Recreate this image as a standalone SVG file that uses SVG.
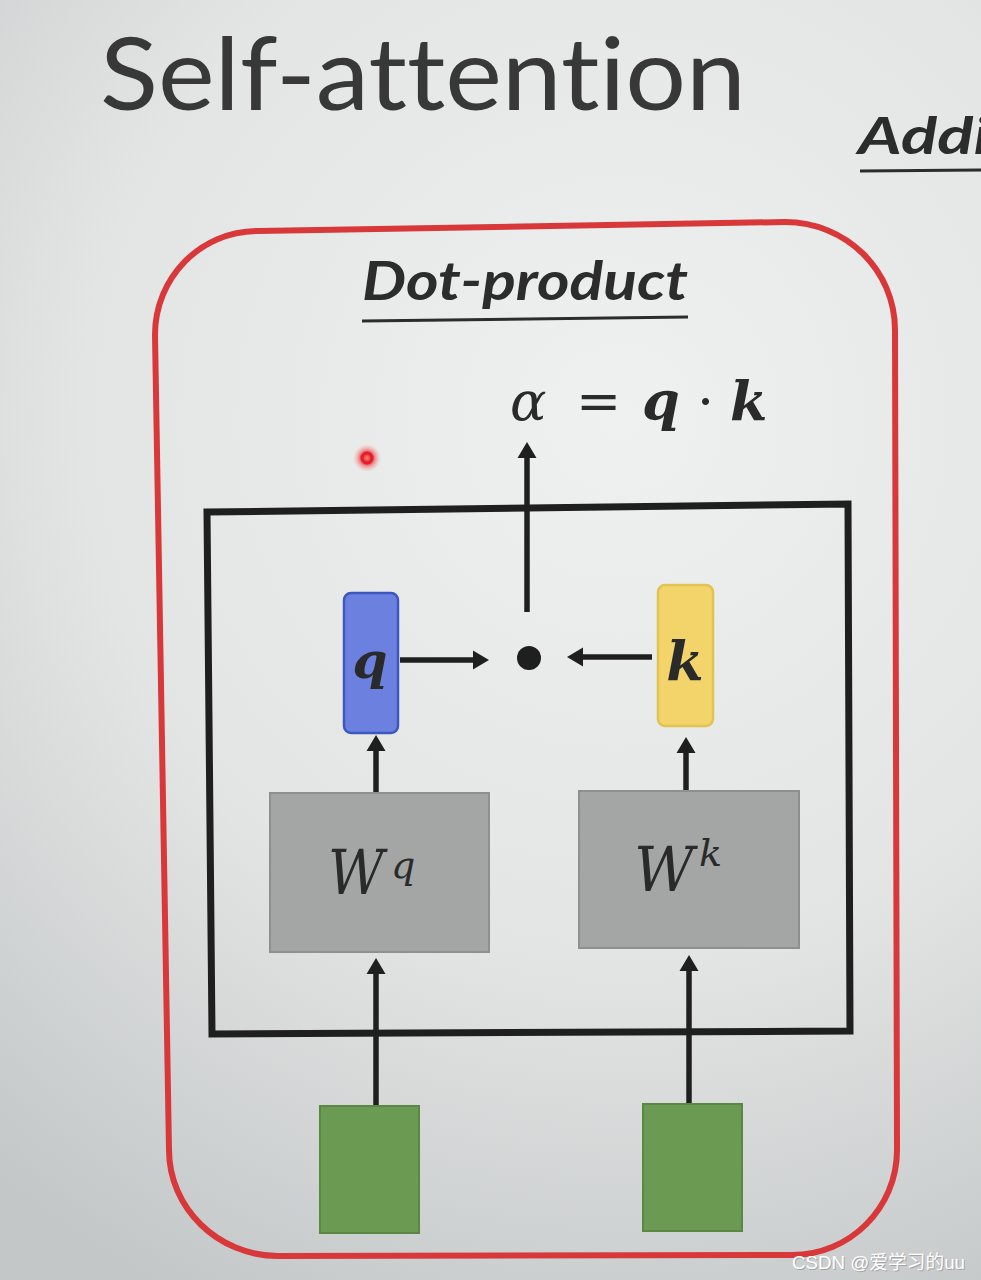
<svg xmlns="http://www.w3.org/2000/svg" width="981" height="1280" viewBox="0 0 981 1280">
  <defs>
    <radialGradient id="bg" cx="620" cy="420" r="980" gradientUnits="userSpaceOnUse">
      <stop offset="0" stop-color="#eff1f0"/>
      <stop offset="0.55" stop-color="#e2e5e4"/>
      <stop offset="1" stop-color="#c4c7c7"/>
    </radialGradient>
    <radialGradient id="laser">
      <stop offset="0" stop-color="#ff8080"/>
      <stop offset="0.35" stop-color="#e8202a"/>
      <stop offset="0.6" stop-color="#f06060" stop-opacity="0.6"/>
      <stop offset="1" stop-color="#f4a0a0" stop-opacity="0"/>
    </radialGradient>
    <marker id="ah" viewBox="0 0 16 20" markerWidth="16" markerHeight="20" refX="6" refY="10" orient="auto" markerUnits="userSpaceOnUse">
      <path d="M0,0.5 L16,10 L0,19.5 Z" fill="#1f1f1f"/>
    </marker>
    <style>
      .title{font-family:Lato,"Open Sans","Liberation Sans",sans-serif;fill:#383838;font-variant-ligatures:none;font-feature-settings:"liga" 0}
      .head{font-family:Lato,"Open Sans","Liberation Sans",sans-serif;font-weight:700;font-style:italic;fill:#2c2c2c}
      .math{font-family:"DejaVu Serif","Liberation Serif",serif;fill:#2a2a2a}
      .bi{font-weight:700;font-style:italic}
      .it{font-style:italic}
      .conn{stroke:#1f1f1f;stroke-width:5.5;fill:none;marker-end:url(#ah)}
      .gray{fill:#a4a5a5;stroke:#8e8f8f;stroke-width:2}
      .green{fill:#6b9a52;stroke:#5b8644;stroke-width:2}
    </style>
  </defs>

  <rect x="0" y="0" width="981" height="1280" fill="url(#bg)"/>

  <g id="title">
    <text class="title" x="100" y="110" font-size="100" textLength="646" lengthAdjust="spacingAndGlyphs">Self-attention</text>
  </g>

  <g id="additive-heading">
    <text class="head" x="858" y="154" font-size="52" textLength="132" lengthAdjust="spacingAndGlyphs">Addi</text>
    <line x1="860" y1="171" x2="981" y2="170" stroke="#2c2c2c" stroke-width="3"/>
  </g>

  <g id="red-frame">
    <path d="M155,335 C155,278 200,231 258,231 L785,222 C846,222 895,270 895,330 L897,1150 C897,1208 850,1255 792,1255 L278,1256 C218,1256 169,1208 169,1150 Z" fill="none" stroke="#d8383a" stroke-width="6"/>
  </g>

  <g id="dot-product-heading">
    <text class="head" x="362" y="300" font-size="54" textLength="326" lengthAdjust="spacingAndGlyphs">Dot-product</text>
    <line x1="362" y1="321" x2="688" y2="317" stroke="#2c2c2c" stroke-width="3"/>
  </g>

  <g id="formula">
    <text class="math" y="420" font-size="54"><tspan class="it" x="510">α</tspan><tspan x="576">=</tspan><tspan class="bi" x="642">q</tspan><tspan x="697">·</tspan><tspan class="bi" x="730">k</tspan></text>
  </g>

  <g id="laser-dot">
    <circle cx="367" cy="458" r="14" fill="url(#laser)"/>
    <circle cx="367" cy="458" r="5" fill="none" stroke="#e0202a" stroke-width="3"/>
  </g>

  <g id="module-box">
    <polygon points="207,512 848,504 850,1031 212,1034" fill="none" stroke="#1f1f1f" stroke-width="7"/>
  </g>

  <g id="connectors">
    <line class="conn" x1="527" y1="612" x2="527" y2="452"/>
    <line class="conn" x1="400" y1="660" x2="479" y2="660"/>
    <line class="conn" x1="652" y1="657" x2="577" y2="657"/>
    <line class="conn" x1="376" y1="812" x2="376" y2="745"/>
    <line class="conn" x1="686" y1="815" x2="686" y2="747"/>
    <line class="conn" x1="376" y1="1106" x2="376" y2="968"/>
    <line class="conn" x1="689" y1="1104" x2="689" y2="965"/>
  </g>

  <g id="dot-op">
    <circle cx="529" cy="658" r="12" fill="#1f1f1f"/>
  </g>

  <g id="q-vector">
    <rect x="344" y="593" width="54" height="140" rx="7" fill="#6c80e0" stroke="#3c58c0" stroke-width="2.5"/>
    <text class="math bi" x="370" y="678" font-size="50" text-anchor="middle">q</text>
  </g>

  <g id="k-vector">
    <rect x="658" y="585" width="55" height="141" rx="7" fill="#f2d46a" stroke="#e2c250" stroke-width="2.5"/>
    <text class="math bi" x="685" y="680" font-size="54" text-anchor="middle">k</text>
  </g>

  <g id="Wq">
    <rect class="gray" x="270" y="793" width="219" height="159"/>
    <text class="math it" x="328" y="894" font-size="62" textLength="56" lengthAdjust="spacingAndGlyphs">W</text>
    <text class="math it" x="391" y="878" font-size="38">q</text>
  </g>

  <g id="Wk">
    <rect class="gray" x="579" y="791" width="220" height="157"/>
    <text class="math it" x="634" y="891" font-size="62" textLength="60" lengthAdjust="spacingAndGlyphs">W</text>
    <text class="math it" x="699" y="866" font-size="38">k</text>
  </g>

  <g id="input-left">
    <rect class="green" x="320" y="1106" width="99" height="127"/>
  </g>

  <g id="input-right">
    <rect class="green" x="643" y="1104" width="99" height="127"/>
  </g>

  <g id="watermark">
    <text x="792" y="1269" font-size="19" font-family="'Liberation Sans','Noto Sans CJK SC',sans-serif" fill="#8a8a8a" opacity="0.6" transform="translate(1,1)" textLength="173" lengthAdjust="spacingAndGlyphs">CSDN @爱学习的uu</text>
    <text x="792" y="1269" font-size="19" font-family="'Liberation Sans','Noto Sans CJK SC',sans-serif" fill="#ffffff" textLength="173" lengthAdjust="spacingAndGlyphs">CSDN @爱学习的uu</text>
  </g>
</svg>
